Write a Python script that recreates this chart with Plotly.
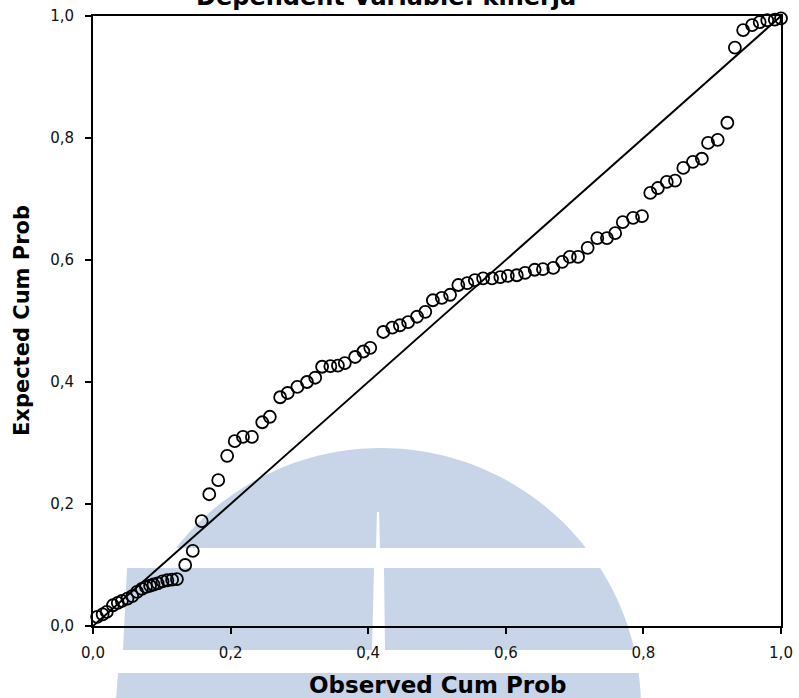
import numpy as np
import plotly.graph_objects as go

# ---- data ----
observed = [0.006, 0.014, 0.020, 0.029, 0.036, 0.042, 0.050, 0.057, 0.064, 0.071,
            0.077, 0.083, 0.088, 0.094, 0.101, 0.108, 0.115, 0.122, 0.134, 0.145,
            0.158, 0.169, 0.182, 0.195, 0.206, 0.218, 0.231, 0.246, 0.257, 0.272,
            0.283, 0.297, 0.311, 0.323, 0.333, 0.345, 0.356, 0.366, 0.381, 0.393,
            0.403, 0.422, 0.435, 0.446, 0.458, 0.471, 0.483, 0.494, 0.507, 0.519,
            0.531, 0.544, 0.555, 0.567, 0.580, 0.592, 0.603, 0.616, 0.628, 0.642,
            0.654, 0.669, 0.682, 0.693, 0.705, 0.719, 0.733, 0.747, 0.759, 0.770,
            0.785, 0.798, 0.810, 0.821, 0.834, 0.846, 0.858, 0.872, 0.885, 0.894,
            0.908, 0.922, 0.933, 0.945, 0.958, 0.969, 0.980, 0.991, 1.000]
expected = [0.015, 0.019, 0.023, 0.034, 0.038, 0.041, 0.045, 0.049, 0.056, 0.061,
            0.064, 0.066, 0.068, 0.070, 0.073, 0.075, 0.076, 0.077, 0.100, 0.123,
            0.172, 0.216, 0.239, 0.279, 0.303, 0.310, 0.310, 0.334, 0.343, 0.375,
            0.382, 0.392, 0.400, 0.407, 0.425, 0.426, 0.427, 0.431, 0.441, 0.450,
            0.456, 0.482, 0.489, 0.493, 0.498, 0.507, 0.515, 0.534, 0.538, 0.543,
            0.559, 0.562, 0.567, 0.570, 0.570, 0.572, 0.574, 0.575, 0.579, 0.584,
            0.585, 0.587, 0.597, 0.605, 0.605, 0.620, 0.636, 0.636, 0.644, 0.662,
            0.669, 0.672, 0.710, 0.718, 0.728, 0.730, 0.751, 0.761, 0.766, 0.792,
            0.797, 0.825, 0.948, 0.977, 0.985, 0.990, 0.993, 0.994, 0.996]
ref_line = [0.0, 1.0]
tick_vals = [0.0, 0.2, 0.4, 0.6, 0.8, 1.0]
tick_text = ["0,0", "0,2", "0,4", "0,6", "0,8", "1,0"]

title_text = "Dependent Variable: kinerja"
x_title = "Observed Cum Prob"
y_title = "Expected Cum Prob"

# ---- layout geometry ----
W, H = 799, 698
ML, MR, MT, MB = 93, 18, 16, 72
PW, PH = W - ML - MR, H - MT - MB


def px2paper(px, py):
    return (px - ML) / PW, (H - MB - py) / PH


def poly_path(pts):
    s = ""
    for i, (px, py) in enumerate(pts):
        xp, yp = px2paper(px, py)
        s += ("M" if i == 0 else "L") + f"{xp:.5f},{yp:.5f} "
    return s + "Z"


# watermark (background decoration)
cx, cy, R = 381, 708, 260


def circ_x(py, side):
    return cx + side * np.sqrt(max(R * R - (cy - py) ** 2, 0))


wm_color = "#c8d5e8"
shapes = []
t1 = np.arcsin((cy - 548) / R)
ts = np.linspace(t1, np.pi - t1, 80)
cap = [(cx + R * np.cos(t), cy - R * np.sin(t)) for t in ts]
shapes.append(poly_path(cap))
ys = np.linspace(568, 650, 20)
band1 = [(127, 568)] + [(circ_x(y, 1), y) for y in ys] + [(123, 650)]
shapes.append(poly_path(band1))
ys2 = np.linspace(673, 700, 10)
band2 = [(118, 673)] + [(circ_x(y, 1), y) for y in ys2] + [(116, 700)]
shapes.append(poly_path(band2))

layout_shapes = [dict(type="path", path=p, xref="paper", yref="paper",
                      fillcolor=wm_color, line=dict(width=0), layer="below")
                 for p in shapes]
for gap in ([(374, 568), (384, 568), (385, 650), (372, 650)],
            [(377, 512), (379, 512), (380, 549), (376, 549)]):
    layout_shapes.append(dict(type="path", path=poly_path(gap), xref="paper", yref="paper",
                              fillcolor="white", line=dict(width=0), layer="below"))

fig = go.Figure()
fig.add_trace(go.Scatter(x=ref_line, y=ref_line, mode="lines",
                         line=dict(color="black", width=2), hoverinfo="skip",
                         showlegend=False, cliponaxis=True))
fig.add_trace(go.Scatter(x=observed, y=expected, mode="markers",
                         marker=dict(symbol="circle-open", size=12, color="black",
                                     line=dict(width=1.8, color="black")),
                         showlegend=False, cliponaxis=False))

font_ticks = dict(family="DejaVu Sans", size=15, color="#111111")
axis_common = dict(range=[0, 1], tickvals=tick_vals, ticktext=tick_text,
                   showgrid=False, zeroline=False, showline=True, linecolor="black",
                   linewidth=2, mirror=True, ticks="outside", ticklen=6, tickwidth=1.5,
                   tickcolor="black", tickfont=font_ticks, automargin=False)

fig.update_layout(
    width=W, height=H, autosize=False,
    margin=dict(l=ML, r=MR, t=MT, b=MB, pad=0, autoexpand=False),
    paper_bgcolor="white", plot_bgcolor="rgba(0,0,0,0)",
    xaxis=dict(**axis_common, ticklabelstandoff=6),
    yaxis=dict(**axis_common, ticklabelstandoff=8),
    shapes=layout_shapes,
    annotations=[
        dict(text=f"<b>{title_text}</b>", xref="paper", yref="paper",
             x=(386 - ML) / PW, y=1 + 19 / PH, xanchor="center", yanchor="middle",
             showarrow=False, font=dict(family="DejaVu Sans", size=24, color="black")),
        dict(text=f"<b>{x_title}</b>", xref="paper", yref="paper",
             x=(437 - ML) / PW, y=-59 / PH, xanchor="center", yanchor="middle",
             showarrow=False, font=dict(family="DejaVu Sans", size=23, color="black")),
        dict(text=f"<b>{y_title}</b>", xref="paper", yref="paper",
             x=-(ML - 22) / PW, y=0.5, xanchor="center", yanchor="middle",
             textangle=-90, showarrow=False,
             font=dict(family="DejaVu Sans", size=21, color="black")),
    ],
)

fig.write_html("out.html")
